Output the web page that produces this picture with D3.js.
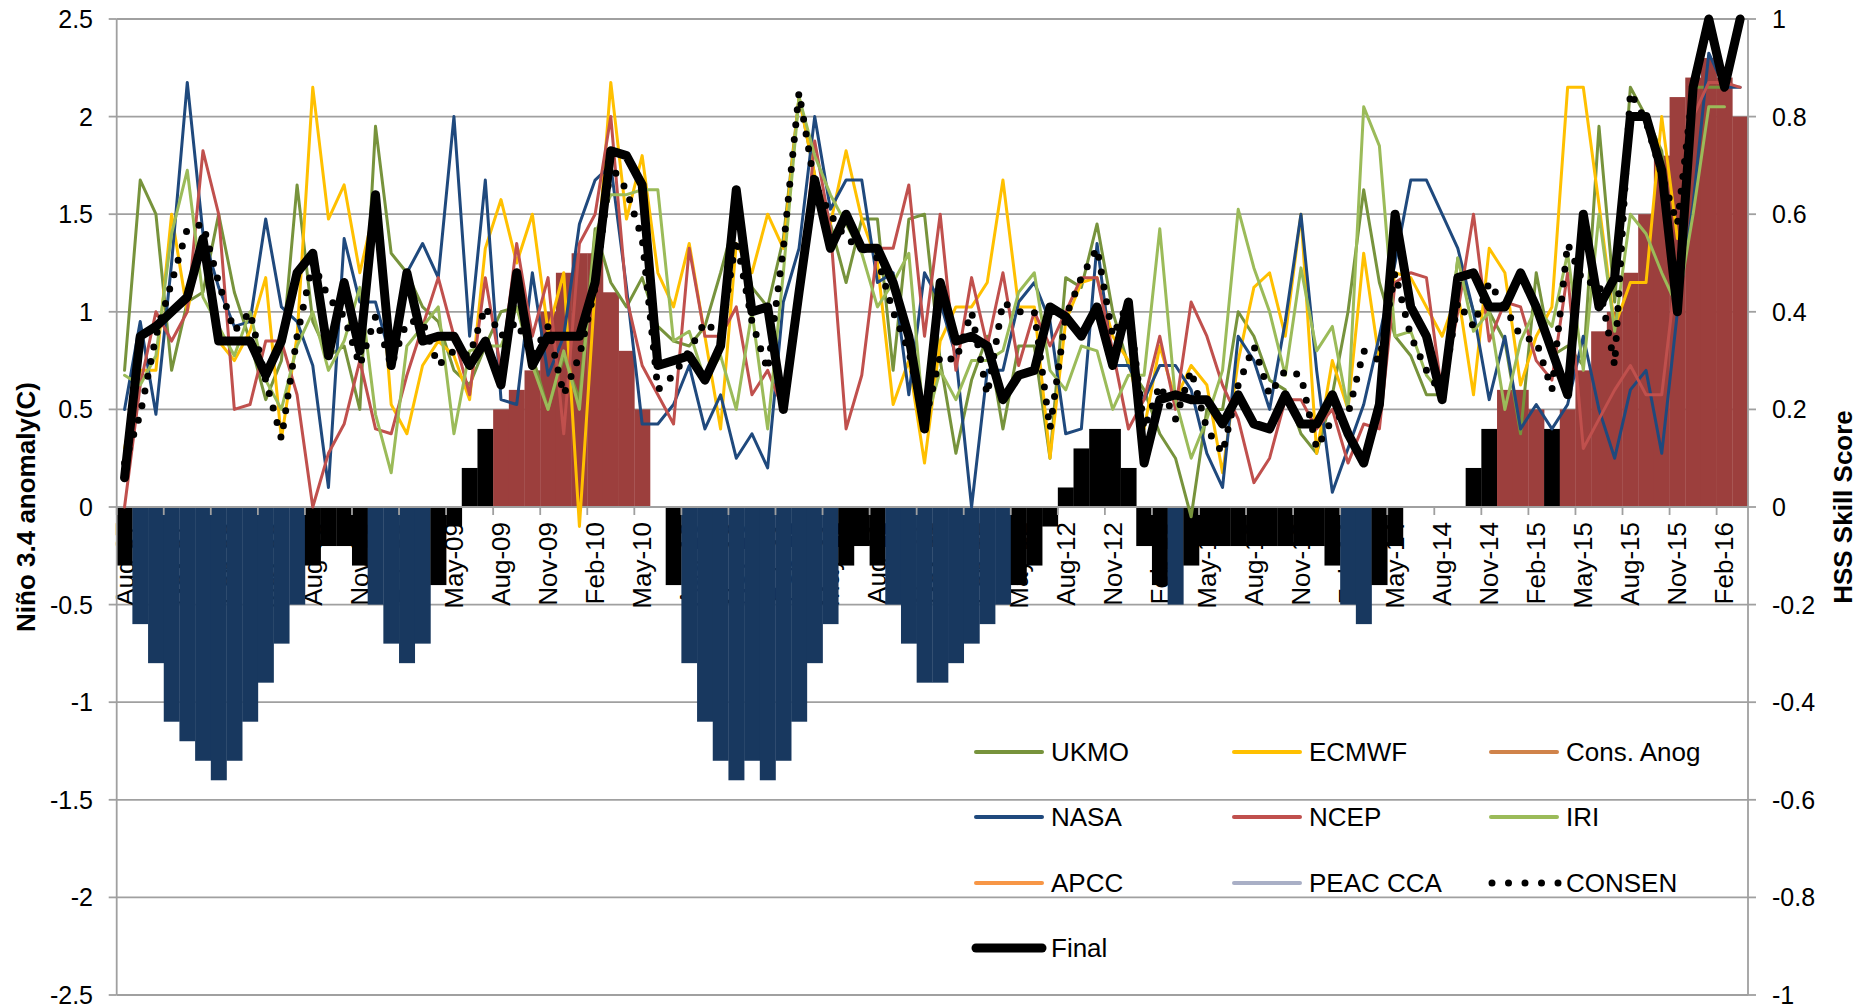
<!DOCTYPE html>
<html><head><meta charset="utf-8">
<script src="https://cdn.jsdelivr.net/npm/d3@7"></script>
<style>html,body{margin:0;padding:0;background:#fff;}svg{display:block;}</style>
</head><body>
<svg id="chart" width="1858" height="1008"></svg>
<script>
const categories = [
"Aug-07","Sep-07","Oct-07","Nov-07","Dec-07",
"Jan-08","Feb-08","Mar-08","Apr-08","May-08","Jun-08","Jul-08","Aug-08","Sep-08","Oct-08","Nov-08","Dec-08",
"Jan-09","Feb-09","Mar-09","Apr-09","May-09","Jun-09","Jul-09","Aug-09","Sep-09","Oct-09","Nov-09","Dec-09",
"Jan-10","Feb-10","Mar-10","Apr-10","May-10","Jun-10","Jul-10","Aug-10","Sep-10","Oct-10","Nov-10","Dec-10",
"Jan-11","Feb-11","Mar-11","Apr-11","May-11","Jun-11","Jul-11","Aug-11","Sep-11","Oct-11","Nov-11","Dec-11",
"Jan-12","Feb-12","Mar-12","Apr-12","May-12","Jun-12","Jul-12","Aug-12","Sep-12","Oct-12","Nov-12","Dec-12",
"Jan-13","Feb-13","Mar-13","Apr-13","May-13","Jun-13","Jul-13","Aug-13","Sep-13","Oct-13","Nov-13","Dec-13",
"Jan-14","Feb-14","Mar-14","Apr-14","May-14","Jun-14","Jul-14","Aug-14","Sep-14","Oct-14","Nov-14","Dec-14",
"Jan-15","Feb-15","Mar-15","Apr-15","May-15","Jun-15","Jul-15","Aug-15","Sep-15","Oct-15","Nov-15","Dec-15",
"Jan-16","Feb-16","Mar-16"];

// Niño 3.4 anomaly (left axis, bars)
const anomaly = [-0.3,-0.6,-0.8,-1.1,-1.2,
-1.3,-1.4,-1.3,-1.1,-0.9,-0.7,-0.5,-0.3,-0.2,-0.2,-0.3,-0.5,
-0.7,-0.8,-0.7,-0.4,-0.1,0.2,0.4,0.5,0.6,0.7,1.0,1.2,
1.3,1.3,1.1,0.8,0.5,0.0,-0.4,-0.8,-1.1,-1.3,-1.4,-1.3,
-1.4,-1.3,-1.1,-0.8,-0.6,-0.3,-0.2,-0.3,-0.5,-0.7,-0.9,-0.9,
-0.8,-0.7,-0.6,-0.5,-0.4,-0.3,-0.1,0.1,0.3,0.4,0.4,0.2,
-0.2,-0.4,-0.5,-0.3,-0.2,-0.2,-0.2,-0.2,-0.2,-0.2,-0.2,-0.2,
-0.3,-0.5,-0.6,-0.4,-0.2,0.0,0.0,0.0,0.0,0.2,0.4,0.6,
0.6,0.5,0.4,0.5,0.7,0.9,1.0,1.2,1.5,1.8,2.1,2.2,
2.3,2.2,2.0];

// HSS skill scores (right axis, lines)
const ukmo = [0.28,0.67,0.60,0.28,0.42,
0.44,0.60,0.44,0.34,0.22,0.30,0.66,0.38,0.31,0.33,0.20,0.78,
0.52,0.48,0.41,0.38,0.28,0.25,0.33,0.40,0.41,0.31,0.20,0.31,
0.22,0.57,0.46,0.41,0.47,0.37,0.34,0.33,0.37,0.48,0.60,0.45,
0.41,0.55,0.84,0.68,0.58,0.46,0.59,0.59,0.28,0.59,0.60,0.30,
0.11,0.26,0.35,0.16,0.33,0.33,0.10,0.47,0.45,0.58,0.40,0.29,
0.24,0.15,0.10,-0.02,0.20,0.20,0.40,0.35,0.26,0.24,0.15,0.11,
0.23,0.40,0.65,0.46,0.35,0.31,0.23,0.23,0.51,0.40,0.40,0.34,
0.15,0.48,0.31,0.33,0.29,0.78,0.42,0.86,0.80,0.73,0.45,0.86,
0.86,0.86,null];

const ecmwf = [0.12,0.28,0.28,0.60,0.40,
0.55,0.34,0.30,0.36,0.47,0.14,0.35,0.86,0.59,0.66,0.48,0.62,
0.21,0.15,0.29,0.34,0.31,0.22,0.53,0.63,0.50,0.60,0.36,0.48,
-0.04,0.45,0.87,0.59,0.72,0.48,0.41,0.54,0.35,0.16,0.54,0.48,
0.60,0.53,0.84,0.68,0.58,0.73,0.59,0.50,0.21,0.30,0.09,0.34,
0.41,0.41,0.46,0.67,0.41,0.41,0.10,0.38,0.46,0.47,0.35,0.30,
0.16,0.33,0.22,0.29,0.25,0.07,0.30,0.45,0.48,0.35,0.60,0.11,
0.30,0.20,0.52,0.30,0.48,0.47,0.41,0.35,0.44,0.23,0.53,0.48,
0.25,0.35,0.41,0.86,0.86,0.62,0.37,0.46,0.46,0.80,0.55,null,
null,null,null];

const consAnog = [];

const nasa = [0.20,0.38,0.19,0.50,0.87,
0.56,0.45,0.37,0.38,0.59,0.41,0.38,0.29,0.04,0.55,0.42,0.42,
0.30,0.48,0.54,0.47,0.80,0.35,0.67,0.22,0.21,0.48,0.27,0.35,
0.58,0.67,0.70,0.45,0.17,0.17,0.21,0.29,0.16,0.23,0.10,0.15,
0.08,0.42,0.53,0.80,0.61,0.67,0.67,0.46,0.48,0.23,0.48,0.42,
0.31,0.00,0.28,0.28,0.42,0.46,0.38,0.15,0.16,0.54,0.29,0.29,
0.22,0.29,0.29,0.24,0.11,0.04,0.35,0.30,0.20,0.38,0.60,0.28,
0.03,0.12,0.21,0.35,0.50,0.67,0.67,0.60,0.53,0.40,0.22,0.35,
0.16,0.21,0.16,0.21,0.35,0.20,0.10,0.24,0.28,0.11,0.40,0.62,
0.93,0.86,0.86];

const ncep = [0.00,0.25,0.40,0.34,0.40,
0.73,0.60,0.20,0.21,0.34,0.34,0.23,0.00,0.11,0.17,0.30,0.16,
0.15,0.27,0.37,0.47,0.35,0.23,0.47,0.28,0.54,0.35,0.47,0.15,
0.54,0.60,0.80,0.43,0.29,0.23,0.17,0.53,0.35,0.35,0.41,0.23,
0.28,0.20,0.40,0.75,0.57,0.16,0.27,0.53,0.53,0.66,0.35,0.60,
0.28,0.47,0.33,0.48,0.29,0.40,0.33,0.40,0.47,0.47,0.32,0.16,
0.22,0.35,0.20,0.42,0.35,0.25,0.18,0.05,0.10,0.22,0.22,0.16,
0.20,0.09,0.17,0.16,0.46,0.48,0.47,0.23,0.40,0.60,0.34,0.42,
0.41,0.30,0.26,0.48,0.12,0.18,0.24,0.29,0.23,0.23,0.50,0.80,
0.87,0.87,0.86];

const iri = [0.27,0.25,0.31,0.56,0.69,
0.43,0.37,0.31,0.40,0.26,0.20,0.33,0.40,0.28,0.34,0.45,0.19,
0.07,0.33,0.37,0.41,0.15,0.32,0.33,0.33,0.41,0.29,0.20,0.32,
0.20,0.56,0.64,0.64,0.65,0.65,0.34,0.36,0.26,0.31,0.20,0.40,
0.16,0.48,0.84,0.72,0.64,0.58,0.52,0.41,0.46,0.52,0.16,0.28,
0.22,0.30,0.30,0.32,0.44,0.48,0.28,0.24,0.33,0.32,0.20,0.27,
0.27,0.57,0.22,0.10,0.18,0.28,0.61,0.49,0.40,0.27,0.49,0.32,
0.37,0.20,0.82,0.74,0.35,0.36,0.27,0.23,0.51,0.36,0.40,0.20,
0.34,0.41,0.37,0.52,0.28,0.60,0.36,0.60,0.56,0.48,0.41,0.60,
0.82,0.82,null];

const apcc = [];
const peacCca = [];

const consen = [0.09,0.19,0.35,0.46,0.57,
0.58,0.46,0.36,0.40,0.26,0.14,0.35,0.50,0.43,0.39,0.29,0.39,
0.29,0.38,0.38,0.29,0.32,0.31,0.41,0.35,0.38,0.31,0.37,0.23,
0.31,0.45,0.70,0.65,0.55,0.24,0.27,0.32,0.38,0.35,0.55,0.38,
0.28,0.53,0.85,0.66,0.60,0.55,0.53,0.51,0.40,0.32,0.17,0.31,
0.30,0.40,0.23,0.42,0.40,0.40,0.16,0.39,0.47,0.53,0.35,0.42,
0.16,0.25,0.18,0.28,0.16,0.11,0.25,0.33,0.23,0.28,0.27,0.12,
0.18,0.19,0.32,0.30,0.48,0.35,0.28,0.23,0.42,0.37,0.46,0.41,
0.35,0.34,0.24,0.54,0.46,0.46,0.29,0.85,0.79,0.68,0.58,0.86,
1.0,0.86,1.0];

const finalHss = [0.06,0.35,0.37,0.40,0.43,
0.55,0.34,0.34,0.34,0.27,0.34,0.48,0.52,0.31,0.46,0.32,0.64,
0.29,0.48,0.34,0.35,0.35,0.29,0.34,0.25,0.48,0.29,0.35,0.35,
0.35,0.46,0.73,0.72,0.66,0.29,0.30,0.31,0.26,0.33,0.65,0.40,
0.41,0.20,0.44,0.67,0.53,0.60,0.53,0.53,0.46,0.35,0.16,0.46,
0.34,0.35,0.33,0.22,0.27,0.28,0.41,0.39,0.35,0.41,0.29,0.42,
0.09,0.22,0.23,0.22,0.22,0.17,0.23,0.17,0.16,0.23,0.17,0.17,
0.23,0.15,0.09,0.21,0.60,0.41,0.35,0.22,0.47,0.48,0.41,0.41,
0.48,0.41,0.32,0.23,0.60,0.41,0.47,0.80,0.80,0.69,0.40,0.86,
1.0,0.86,1.0];

const leftTicks = [2.5,2,1.5,1,0.5,0,-0.5,-1,-1.5,-2,-2.5];
const leftTickLabels = ["2.5","2","1.5","1","0.5","0","-0.5","-1","-1.5","-2","-2.5"];
const rightTicks = [1,0.8,0.6,0.4,0.2,0,-0.2,-0.4,-0.6,-0.8,-1];
const rightTickLabels = ["1","0.8","0.6","0.4","0.2","0","-0.2","-0.4","-0.6","-0.8","-1"];

const seriesNames = ["UKMO","ECMWF","Cons. Anog","NASA","NCEP","IRI","APCC","PEAC CCA","CONSEN","Final"];
const seriesData = [ukmo, ecmwf, consAnog, nasa, ncep, iri, apcc, peacCca, consen, finalHss];
const seriesColors = ["#77933C","#FFC000","#D0834A","#1F497D","#C0504D","#9BBB59","#F79646","#A9AFC6","#000000","#000000"];

// ---- drawing ----
const FONT = "'Liberation Sans', Arial, sans-serif";
const svg = d3.select("#chart");
const L = 116.7, R = 1748, T = 19, B = 995;
const x = d3.scaleBand().domain(categories).range([L, R]).padding(0);
const yL = d3.scaleLinear().domain([-2.5, 2.5]).range([B, T]);
const yR = d3.scaleLinear().domain([-1, 1]).range([B, T]);
const bw = x.bandwidth();
const cx = c => x(c) + bw / 2;
const gridColor = "#A0A0A0";

// gridlines
svg.append("g").selectAll("line").data(leftTicks).join("line")
  .attr("x1", L).attr("x2", R)
  .attr("y1", d => yL(d)).attr("y2", d => yL(d))
  .attr("stroke", gridColor).attr("stroke-width", 1.8);

// category labels (drawn under the bars)
svg.append("g").selectAll("text")
  .data(categories.filter((c, i) => i % 3 === 0)).join("text")
  .attr("transform", c => `translate(${cx(c)},${yL(0) + 15}) rotate(-90)`)
  .attr("text-anchor", "end").attr("dominant-baseline", "central")
  .attr("font-family", FONT).attr("font-size", 26).attr("fill", "#000")
  .text(c => c);

// bars
const barColor = v => v >= 0.5 ? "#9C3F3D" : (v <= -0.5 ? "#18385F" : "#000000");
svg.append("g").selectAll("rect").data(categories).join("rect")
  .attr("x", c => x(c)).attr("width", bw + 0.3)
  .attr("y", (c, i) => yL(Math.max(0, anomaly[i])))
  .attr("height", (c, i) => Math.abs(yL(anomaly[i]) - yL(0)))
  .attr("fill", (c, i) => barColor(anomaly[i]));

// axes lines
const ax = svg.append("g").attr("stroke", gridColor).attr("stroke-width", 1.8);
ax.append("line").attr("x1", L).attr("x2", L).attr("y1", T).attr("y2", B);
ax.append("line").attr("x1", R).attr("x2", R).attr("y1", T).attr("y2", B);
ax.append("line").attr("x1", L).attr("x2", R).attr("y1", yL(0)).attr("y2", yL(0));
ax.selectAll(".lt").data(leftTicks).join("line").attr("class","lt")
  .attr("x1", L - 8).attr("x2", L).attr("y1", d => yL(d)).attr("y2", d => yL(d));
ax.selectAll(".rt").data(rightTicks).join("line").attr("class","rt")
  .attr("x1", R).attr("x2", R + 8).attr("y1", d => yR(d)).attr("y2", d => yR(d));
ax.selectAll(".xt").data(categories.filter((c, i) => i % 3 === 0)).join("line").attr("class","xt")
  .attr("x1", c => x(c)).attr("x2", c => x(c))
  .attr("y1", yL(0)).attr("y2", yL(0) + 8);

// axis tick labels
svg.append("g").selectAll("text").data(leftTicks).join("text")
  .attr("x", 93).attr("y", d => yL(d))
  .attr("text-anchor", "end").attr("dominant-baseline", "central")
  .attr("font-family", FONT).attr("font-size", 25).attr("fill", "#000")
  .text((d, i) => leftTickLabels[i]);
svg.append("g").selectAll("text").data(rightTicks).join("text")
  .attr("x", 1772).attr("y", d => yR(d))
  .attr("text-anchor", "start").attr("dominant-baseline", "central")
  .attr("font-family", FONT).attr("font-size", 25).attr("fill", "#000")
  .text((d, i) => rightTickLabels[i]);

// axis titles
svg.append("text").attr("transform", `translate(26,${yL(0)}) rotate(-90)`)
  .attr("text-anchor", "middle").attr("dominant-baseline", "central")
  .attr("font-family", FONT).attr("font-size", 26).attr("font-weight", "bold")
  .text("Niño 3.4 anomaly(C)");
svg.append("text").attr("transform", `translate(1843,${yL(0)}) rotate(-90)`)
  .attr("text-anchor", "middle").attr("dominant-baseline", "central")
  .attr("font-family", FONT).attr("font-size", 26).attr("font-weight", "bold")
  .text("HSS Skill Score");

// line series
function styleFor(name, sel) {
  if (name === "Final") {
    sel.attr("stroke-width", 9).attr("stroke-linejoin", "round").attr("stroke-linecap", "round");
  } else if (name === "CONSEN") {
    sel.attr("stroke-width", 7).attr("stroke-dasharray", "0 15").attr("stroke-linecap", "round");
  } else {
    sel.attr("stroke-width", 3).attr("stroke-linejoin", "round").attr("stroke-linecap", "round");
  }
  return sel;
}
const lineGen = d3.line()
  .defined(d => d.v !== null && d.v !== undefined)
  .x(d => cx(d.c)).y(d => yR(d.v));
const lg = svg.append("g");
seriesNames.forEach((name, k) => {
  const arr = seriesData[k];
  if (!arr.length) return;
  const pts = categories.map((c, i) => ({c, v: arr[i] === undefined ? null : arr[i]}));
  const p = lg.append("path").datum(pts).attr("d", lineGen)
    .attr("fill", "none").attr("stroke", seriesColors[k]);
  styleFor(name, p);
});

// legend
const colX = [974, 1232, 1489];
const rowY = [752, 817, 883, 948];
const leg = svg.append("g");
seriesNames.forEach((name, k) => {
  const col = k % 3, row = Math.floor(k / 3);
  const x0 = colX[col], yy = rowY[row];
  const ln = leg.append("line").attr("x1", x0 + 2).attr("x2", x0 + 68)
    .attr("y1", yy).attr("y2", yy).attr("stroke", seriesColors[k]);
  if (name === "Final") ln.attr("stroke-width", 9).attr("stroke-linecap", "round");
  else if (name === "CONSEN") ln.attr("x1", x0 + 3).attr("x2", x0 + 70).attr("stroke-width", 7).attr("stroke-dasharray", "0 16.5").attr("stroke-linecap", "round");
  else ln.attr("stroke-width", 4).attr("stroke-linecap", "round");
  leg.append("text").attr("x", x0 + 77).attr("y", yy)
    .attr("dominant-baseline", "central")
    .attr("font-family", FONT).attr("font-size", 26).attr("fill", "#000")
    .text(name);
});
</script>
</body></html>
